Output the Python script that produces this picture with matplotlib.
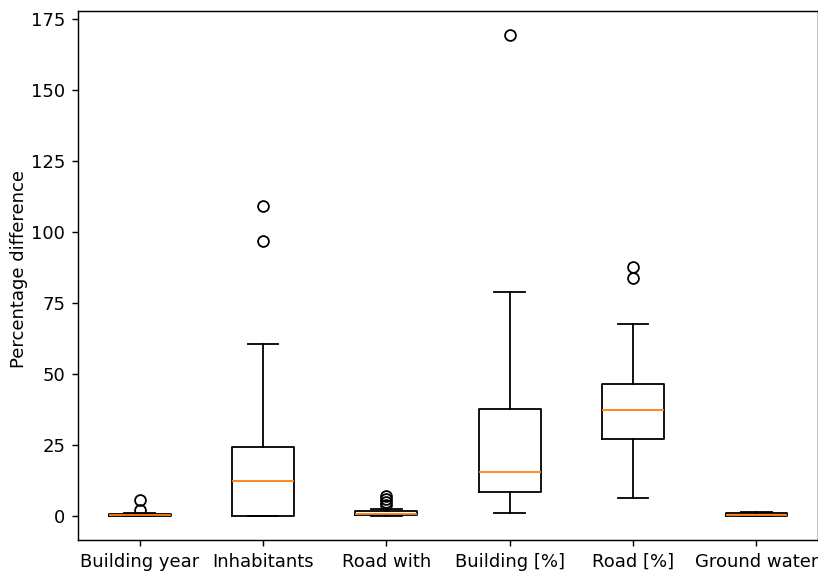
import matplotlib
matplotlib.use("Agg")
import matplotlib.pyplot as plt

labels = ["Building year", "Inhabitants", "Road with", "Building [%]", "Road [%]", "Ground water"]

# box statistics
q1 = [0.0, 0.0, 0.2, 8.3, 27.1, 0.0]
med = [0.2, 12.4, 0.8, 15.6, 37.2, 0.3]
q3 = [0.6, 24.3, 1.6, 37.7, 46.5, 1.0]
whislo = [0.0, 0.0, 0.0, 0.9, 6.2, 0.0]
whishi = [1.2, 60.7, 2.3, 79.0, 67.5, 1.3]
fliers = [
    [2.2, 5.5],
    [96.8, 109.3],
    [3.9, 5.0, 6.0, 7.0],
    [169.5],
    [83.8, 87.7],
    [],
]

stats = []
for i in range(len(labels)):
    stats.append({
        "label": labels[i],
        "q1": q1[i],
        "med": med[i],
        "q3": q3[i],
        "whislo": whislo[i],
        "whishi": whishi[i],
        "fliers": fliers[i],
    })

dpi = 130
fig = plt.figure(figsize=(818 / dpi, 571 / dpi), dpi=dpi)
ax = fig.add_axes([78 / 818, 31 / 571, 740 / 818, 529 / 571])
ax.bxp(stats)
ax.set_ylabel("Percentage difference")
ax.yaxis.set_label_coords(-0.068, 0.513)

fig.savefig("out.png", dpi=dpi)
